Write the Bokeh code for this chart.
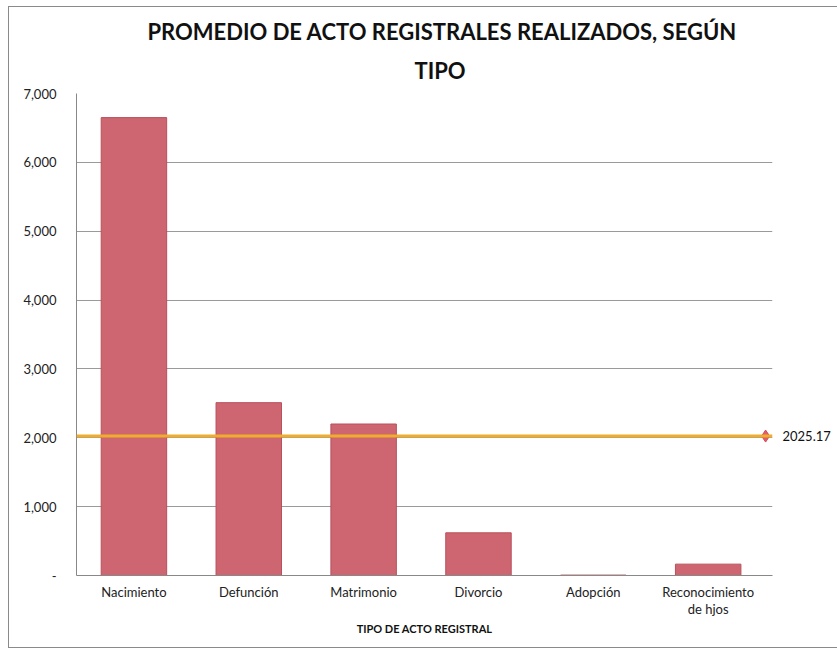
from bokeh.plotting import figure
from bokeh.models import (Span, Title, NumeralTickFormatter, FixedTicker, ColumnDataSource,
                          Range1d, LinearAxis)
from bokeh.embed import file_html
from bokeh.resources import INLINE
import numpy as np

categories = ["Nacimiento", "Defunción", "Matrimonio", "Divorcio", "Adopción", "Reconocimiento de hjos"]
tick_labels = ["Nacimiento", "Defunción", "Matrimonio", "Divorcio", "Adopción", "Reconocimiento\nde hjos"]
values = [6650, 2510, 2200, 620, 6, 165]
y_ticks = [0, 1000, 2000, 3000, 4000, 5000, 6000, 7000]
title_lines = ["PROMEDIO DE ACTO REGISTRALES REALIZADOS, SEGÚN", "TIPO"]
x_title = "TIPO DE ACTO REGISTRAL"

average = float(np.mean(values))
n = len(categories)
x_pos = [i + 0.5 for i in range(n)]

FONT = "Lato"
BORDER = "1px solid #8a8a8a"

p = figure(x_range=Range1d(0, n + 0.06), y_range=Range1d(0, 7000), width=829, height=642,
           output_backend="svg", toolbar_location=None,
           min_border_left=67, min_border_right=66, min_border_top=86, min_border_bottom=74)
p.styles = {"margin-left": "8px", "margin-top": "6px", "border-left": BORDER,
            "border-top": BORDER, "border-bottom": BORDER}

# title: first added sits nearest the plot
p.add_layout(Title(text=title_lines[1], align="left", offset=338, standoff=20,
                   text_font=FONT, text_font_size="22px", text_font_style="bold",
                   text_color="#111111"), "above")
p.add_layout(Title(text=title_lines[0], align="left", offset=71, standoff=0,
                   text_font=FONT, text_font_size="22px", text_font_style="bold",
                   text_color="#111111"), "above")

src = ColumnDataSource(dict(x=x_pos, val=values, cat=categories))
p.vbar(x="x", top="val", width=0.57, source=src, fill_color="#cd6670",
       line_color="#b9505c", line_width=1)

p.add_layout(Span(location=average, dimension="width", line_color="#f0ac2c", line_width=3))
p.scatter(x=[n], y=[average], marker="diamond", size=12, fill_color="#e0606a", line_color="#d04a58")

# value label of the average line, drawn as a right-hand axis tick label
avg_axis = LinearAxis(ticker=FixedTicker(ticks=[average]), formatter=NumeralTickFormatter(format="0.00"))
avg_axis.axis_line_color = None
avg_axis.major_tick_line_color = None
avg_axis.minor_tick_line_color = None
avg_axis.major_label_standoff = 4
avg_axis.major_label_text_font = FONT
avg_axis.major_label_text_font_size = "13px"
avg_axis.major_label_text_color = "#111111"
p.add_layout(avg_axis, "right")

yax = p.yaxis[0]
yax.ticker = FixedTicker(ticks=y_ticks)
yax.formatter = NumeralTickFormatter(format="0,0")
yax.major_label_overrides = {0: "-"}
yax.major_label_text_font = FONT
yax.major_label_text_font_size = "13px"
yax.major_label_text_color = "#222222"
yax.axis_line_color = "#888888"
yax.major_tick_line_color = None
yax.minor_tick_line_color = None
yax.major_label_standoff = 14

p.xaxis.ticker = FixedTicker(ticks=x_pos)
p.xaxis.major_label_overrides = {x: t for x, t in zip(x_pos, tick_labels)}
p.xaxis.major_label_text_font = FONT
p.xaxis.major_label_text_font_size = "13px"
p.xaxis.major_label_text_line_height = 1.1
p.xaxis.major_label_text_color = "#222222"
p.xaxis.axis_line_color = "#888888"
p.xaxis.major_tick_line_color = None
p.xaxis.minor_tick_line_color = None
p.xaxis.major_label_standoff = 2
p.xaxis.axis_label = x_title
p.xaxis.axis_label_text_font = FONT
p.xaxis.axis_label_text_font_size = "11px"
p.xaxis.axis_label_text_font_style = "bold"
p.xaxis.axis_label_text_color = "#111111"
p.xaxis.axis_label_standoff = 2

p.xgrid.grid_line_color = None
p.ygrid.ticker = FixedTicker(ticks=y_ticks)
p.ygrid.grid_line_color = "#9a9a9a"
p.ygrid.grid_line_width = 1
p.outline_line_color = None

open("out.html", "w").write(file_html(p, INLINE))
